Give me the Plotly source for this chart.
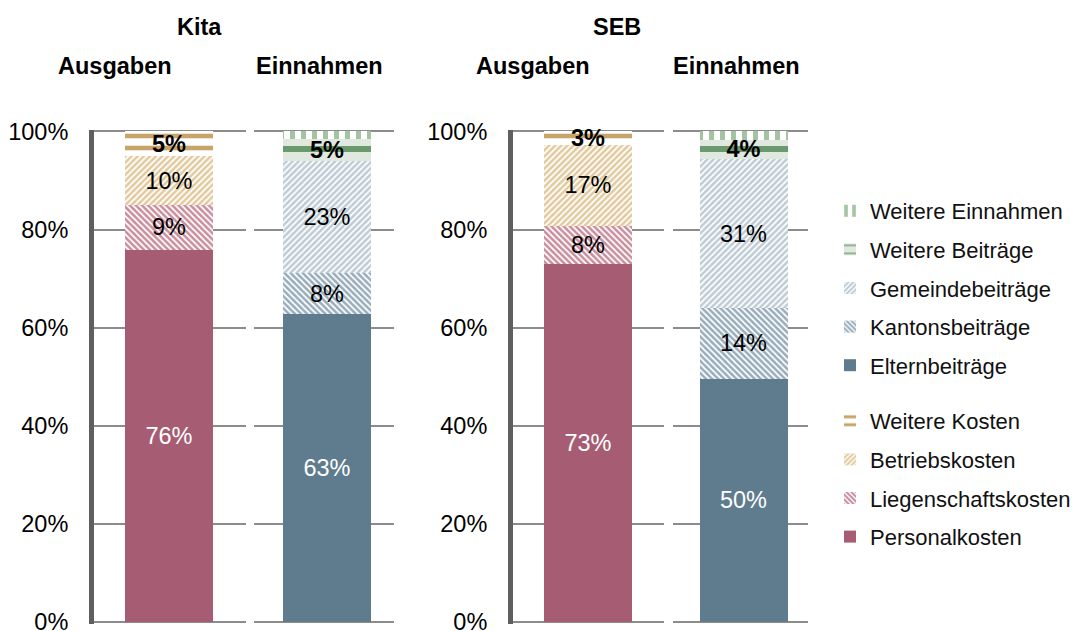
import plotly.graph_objects as go

# ---------------- data ----------------
groups = ["Kita", "SEB"]
ausgaben_series = ["Personalkosten", "Liegenschaftskosten", "Betriebskosten", "Weitere Kosten"]
einnahmen_series = ["Elternbeiträge", "Kantonsbeiträge", "Gemeindebeiträge", "Weitere Beiträge", "Weitere Einnahmen"]

kita_ausgaben = [75.8, 9.3, 9.8, 5.1]
kita_ausgaben_labels = ["76%", "9%", "10%", "5%"]
seb_ausgaben = [73.0, 7.7, 16.6, 2.7]
seb_ausgaben_labels = ["73%", "8%", "17%", "3%"]

kita_einnahmen = [62.8, 8.3, 22.9, 4.5, 1.5]
kita_einnahmen_labels = ["63%", "8%", "23%", "5%", ""]
seb_einnahmen = [49.6, 14.4, 30.4, 3.9, 1.7]
seb_einnahmen_labels = ["50%", "14%", "31%", "4%", ""]

y_ticks = [0, 20, 40, 60, 80, 100]
y_tick_labels = ["0%", "20%", "40%", "60%", "80%", "100%"]

# ---------------- styles ----------------
W, H = 1081, 631
FONT = "Liberation Sans, Arial, sans-serif"
FS = 23.5

def solid(c):
    return dict(color=c, line=dict(width=0))

def patt(shape, bg, fg, size, sol):
    return dict(color=bg, line=dict(width=0),
                pattern=dict(shape=shape, bgcolor=bg, fgcolor=fg, size=size,
                             solidity=sol, fillmode="replace"))

styles = {
    "Personalkosten": solid("#A65C72"),
    "Liegenschaftskosten": patt("\\", "#C98E9E", "#FFFFFF", 4.3, 0.4),
    "Betriebskosten": patt("/", "#E2CA9E", "#FFFFFF", 4.3, 0.4),
    "Weitere Kosten": patt("-", "#FFFFFF", "#C6A46A", 12, 0.38),
    "Elternbeiträge": solid("#5E7C8E"),
    "Kantonsbeiträge": patt("\\", "#98ACBB", "#FFFFFF", 4.3, 0.4),
    "Gemeindebeiträge": patt("/", "#BFCCD5", "#FFFFFF", 4.3, 0.4),
    "Weitere Beiträge": patt("-", "#E0E8DF", "#6A996D", 38, 0.16),
    "Weitere Einnahmen": patt("|", "#FFFFFF", "#A3C3A2", 11, 0.45),
}
white_text = {"Personalkosten", "Elternbeiträge"}
bold_text = {"Weitere Kosten", "Weitere Beiträge"}

# subplot geometry in pixels: (domain left, domain right, bar centre)
geom = {
    "x": (94, 246, 169),
    "x2": (254, 394, 327),
    "x3": (513, 664, 588),
    "x4": (673, 808, 743.5),
}
BAR_PX = 88
YBOT, YTOP = 623.5, 130
YR = [-0.3, 100.3]

fig = go.Figure()

def add_stack(series, values, labels, cat, xa, ya, legend, show):
    l, r, c = geom[xa]
    w = BAR_PX / (r - l)
    n = len(series)
    for k, (name, v, lab) in enumerate(zip(series, values, labels)):
        tcol = "#FFFFFF" if name in white_text else "#000000"
        fig.add_trace(go.Bar(
            x=[cat], y=[v], name=name, legendgroup=name, showlegend=show,
            legend=legend, legendrank=n - k, xaxis=xa, yaxis=ya, width=w,
            marker=styles[name], text=[lab], textposition="inside",
            insidetextanchor="middle", textangle=0, constraintext="none",
            cliponaxis=False,
            textfont=dict(family=FONT, size=FS, color=tcol,
                          weight="bold" if name in bold_text else "normal"),
            hoverinfo="skip",
        ))

add_stack(ausgaben_series, kita_ausgaben, kita_ausgaben_labels, "Ausgaben", "x", "y", "legend2", True)
add_stack(einnahmen_series, kita_einnahmen, kita_einnahmen_labels, "Einnahmen", "x2", "y2", "legend", True)
add_stack(ausgaben_series, seb_ausgaben, seb_ausgaben_labels, "Ausgaben", "x3", "y3", "legend2", False)
add_stack(einnahmen_series, seb_einnahmen, seb_einnahmen_labels, "Einnahmen", "x4", "y4", "legend", False)

layout = dict(
    width=W, height=H, barmode="stack",
    margin=dict(l=0, r=0, t=0, b=0, autoexpand=False),
    paper_bgcolor="white", plot_bgcolor="rgba(0,0,0,0)",
    font=dict(family=FONT, size=FS, color="#000000"),
)

ydom = [1 - YBOT / H, 1 - YTOP / H]
for i, xa in enumerate(["x", "x2", "x3", "x4"]):
    l, r, c = geom[xa]
    a = -(c - l) / (r - l)
    suffix = "" if i == 0 else str(i + 1)
    layout["xaxis" + suffix] = dict(
        domain=[l / W, r / W], anchor="y" + suffix, type="category",
        range=[a, a + 1], showticklabels=False, showgrid=False,
        zeroline=False, showline=False, fixedrange=True, automargin=False,
    )
    primary = i in (0, 2)
    layout["yaxis" + suffix] = dict(
        domain=ydom, anchor="x" + suffix, range=YR,
        tickvals=y_ticks, ticktext=y_tick_labels,
        showticklabels=primary, ticks="", ticklabelstandoff=16,
        ticklabeloverflow="allow",
        tickfont=dict(family=FONT, size=FS, color="#000000"),
        showgrid=True, gridcolor="#8C8C8C", gridwidth=2,
        zeroline=False, showline=primary, linecolor="#5F5F5F", linewidth=5,
        fixedrange=True, automargin=False,
    )

fig.update_layout(**layout)

leg_common = dict(
    xanchor="left", yanchor="top", traceorder="grouped",
    tracegroupgap=7, itemwidth=30, bgcolor="rgba(0,0,0,0)",
    font=dict(family=FONT, size=22, color="#111111"),
)
fig.update_layout(
    legend=dict(x=830 / W, y=1 - 190 / H, **leg_common),
    legend2=dict(x=830 / W, y=1 - 400 / H, **leg_common),
    showlegend=True,
)

def title(text, px, py):
    fig.add_annotation(text="<b>%s</b>" % text, xref="paper", yref="paper",
                       x=px / W, y=1 - py / H, xanchor="center", yanchor="middle",
                       showarrow=False, font=dict(family=FONT, size=FS, color="#000000"))

title(groups[0], 199, 27)
title(groups[1], 617, 27)
title("Ausgaben", 115, 66)
title("Einnahmen", 319, 66)
title("Ausgaben", 533, 66)
title("Einnahmen", 736, 66)

fig.write_html("out.html", config={"displayModeBar": False},
               post_script="document.body.style.margin='0px';document.body.style.overflow='hidden';")
